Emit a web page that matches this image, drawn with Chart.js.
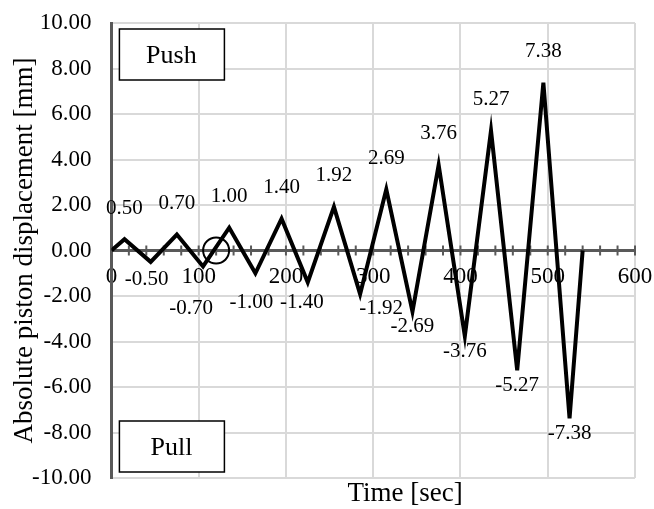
<!DOCTYPE html>
<html>
<head>
<meta charset="utf-8">
<script src="https://cdn.jsdelivr.net/npm/chart.js@4/dist/chart.umd.min.js"></script>
<style>
  html, body { margin: 0; padding: 0; background: #fff; }
  #wrap { width: 654px; height: 509px; }
</style>
</head>
<body>
<div id="wrap"><canvas id="chart" width="654" height="509"></canvas></div>
<script>
// loading protocol
var times = [0, 15, 45, 75, 105, 135, 165, 195, 225, 255, 285, 315, 345, 375, 405, 435, 465, 495, 525, 540];
var displacement = [0, 0.50, -0.50, 0.70, -0.70, 1.00, -1.00, 1.40, -1.40, 1.92, -1.92, 2.69, -2.69, 3.76, -3.76, 5.27, -5.27, 7.38, -7.38, 0];
var markTime = [120];
var markValue = [0];
var xTicks = [0, 100, 200, 300, 400, 500, 600];
var yTicks = [-10, -8, -6, -4, -2, 0, 2, 4, 6, 8, 10];

var FONT = "'Liberation Serif', 'Times New Roman', serif";
var AXIS = "#595959";
var GRID = "#d9d9d9";

// small nudges for the labels under the troughs (Excel had them moved by hand)
var troughNudge = { 2: [-4, 18], 4: [-12, 42], 6: [-4, 29], 8: [-6, 20], 10: [21, 14] };

// let the layout padding alone decide where the plot sits
function noScalePadding(s) {
  s.paddingTop = 0; s.paddingBottom = 0; s.paddingLeft = 0; s.paddingRight = 0;
}

var extras = {
  id: "extras",
  beforeDatasetsDraw: function(chart) {
    var ctx = chart.ctx, x = chart.scales.x, y = chart.scales.y;
    var y0 = y.getPixelForValue(0);
    ctx.save();
    ctx.strokeStyle = AXIS;
    ctx.lineWidth = 2;
    for (var t = 0; t <= 600; t += 20) {
      var px = x.getPixelForValue(t);
      ctx.beginPath();
      ctx.moveTo(px, y0 - 5);
      ctx.lineTo(px, y0 + 5);
      ctx.stroke();
    }
    ctx.restore();
  },
  afterDatasetsDraw: function(chart) {
    var ctx = chart.ctx, meta = chart.getDatasetMeta(0);
    ctx.save();
    ctx.font = "21px " + FONT;
    ctx.fillStyle = "#000";
    ctx.textAlign = "center";
    ctx.textBaseline = "middle";
    for (var i = 1; i < displacement.length - 1; i++) {
      var pt = meta.data[i];
      var v = displacement[i];
      var dx = 0, dy = v > 0 ? -31 : 15;
      if (v < 0 && troughNudge[i]) { dx = troughNudge[i][0]; dy = troughNudge[i][1]; }
      ctx.fillText(v.toFixed(2), pt.x + dx, pt.y + dy);
    }
    ctx.restore();
  },
  afterDraw: function(chart) {
    var ctx = chart.ctx, a = chart.chartArea;
    ctx.save();
    // Push / Pull boxes
    ctx.font = "26px " + FONT;
    ctx.textAlign = "center";
    ctx.textBaseline = "middle";
    [["Push", a.top + 6], ["Pull", a.bottom - 57]].forEach(function(b) {
      ctx.fillStyle = "#fff";
      ctx.fillRect(a.left + 8, b[1], 105, 51);
      ctx.strokeStyle = "#000";
      ctx.lineWidth = 1.5;
      ctx.strokeRect(a.left + 8, b[1], 105, 51);
      ctx.fillStyle = "#000";
      ctx.fillText(b[0], a.left + 60, b[1] + 27);
    });
    // axis titles
    ctx.font = "27px " + FONT;
    ctx.fillText("Time [sec]", 405, 494);
    ctx.translate(25, (a.top + a.bottom) / 2);
    ctx.rotate(-Math.PI / 2);
    ctx.fillText("Absolute piston displacement [mm]", 0, 0);
    ctx.restore();
  }
};

var ctx = document.getElementById("chart").getContext("2d");
new Chart(ctx, {
  type: "line",
  data: {
    datasets: [
      {
        data: times.map(function(t, i) { return { x: t, y: displacement[i] }; }),
        borderColor: "#000",
        borderWidth: 4,
        borderJoinStyle: "miter",
        pointRadius: 0,
        tension: 0,
        fill: false
      },
      {
        data: markTime.map(function(t, i) { return { x: t, y: markValue[i] }; }),
        showLine: false,
        pointRadius: 13,
        pointStyle: "circle",
        pointBorderColor: "#000",
        pointBorderWidth: 2,
        pointBackgroundColor: "rgba(0,0,0,0)"
      }
    ]
  },
  options: {
    responsive: false,
    animation: false,
    layout: { padding: { left: 12, right: 19, top: 23, bottom: 31 } },
    plugins: { legend: { display: false }, tooltip: { enabled: false } },
    scales: {
      x: {
        type: "linear",
        position: { y: 0 },
        min: 0,
        max: 600,
        afterFit: noScalePadding,
        afterBuildTicks: function(s) { s.ticks = xTicks.map(function(v) { return { value: v }; }); },
        ticks: { autoSkip: false, maxRotation: 0, padding: 13, color: "#000", font: { family: FONT, size: 23 } },
        grid: { color: GRID, lineWidth: 2, drawTicks: false },
        border: { color: AXIS, width: 3 }
      },
      y: {
        min: -10,
        max: 10,
        afterFit: noScalePadding,
        afterBuildTicks: function(s) { s.ticks = yTicks.map(function(v) { return { value: v }; }); },
        ticks: {
          padding: 20,
          color: "#000",
          font: { family: FONT, size: 23 },
          callback: function(v) { return Number(v).toFixed(2); }
        },
        grid: { color: GRID, lineWidth: 2, drawTicks: false },
        border: { color: AXIS, width: 3 }
      }
    }
  },
  plugins: [extras]
});
</script>
</body>
</html>
